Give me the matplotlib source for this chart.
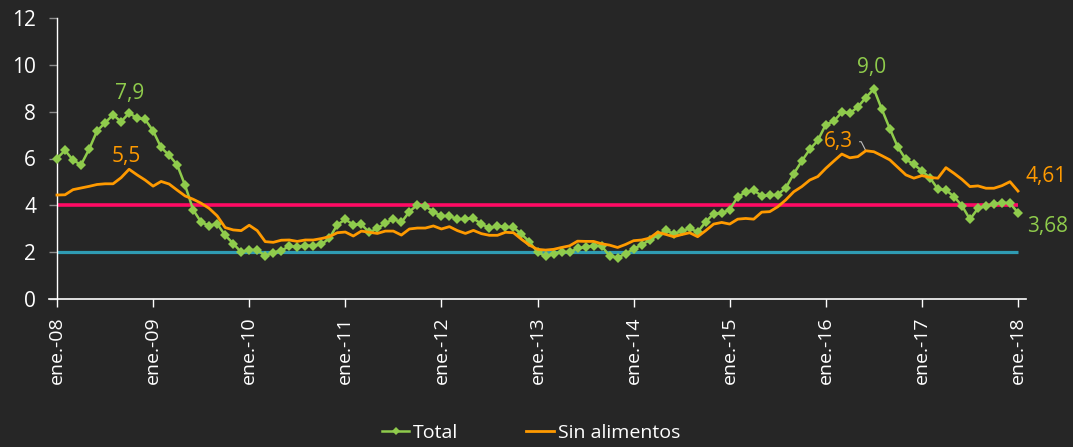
import numpy as np
import matplotlib
matplotlib.use("Agg")
import matplotlib.pyplot as plt

# --- DATA ---

year_labels = ["ene.-08", "ene.-09", "ene.-10", "ene.-11", "ene.-12", "ene.-13",
               "ene.-14", "ene.-15", "ene.-16", "ene.-17", "ene.-18"]

total = [
    6.00, 6.35, 5.93, 5.73, 6.39, 7.18, 7.52, 7.87, 7.57, 7.94, 7.73, 7.67,   # 2008
    7.18, 6.47, 6.14, 5.73, 4.85, 3.81, 3.28, 3.13, 3.21, 2.72, 2.37, 2.00,   # 2009
    2.10, 2.09, 1.84, 1.98, 2.07, 2.25, 2.24, 2.28, 2.28, 2.33, 2.59, 3.17,   # 2010
    3.40, 3.17, 3.19, 2.84, 3.02, 3.23, 3.42, 3.27, 3.73, 4.02, 3.96, 3.73,   # 2011
    3.54, 3.55, 3.40, 3.43, 3.44, 3.20, 3.03, 3.11, 3.08, 3.06, 2.77, 2.44,   # 2012
    2.00, 1.83, 1.91, 2.02, 2.00, 2.16, 2.22, 2.27, 2.27, 1.84, 1.76, 1.94,   # 2013
    2.13, 2.32, 2.51, 2.72, 2.93, 2.79, 2.89, 3.02, 2.86, 3.29, 3.65, 3.66,   # 2014
    3.82, 4.36, 4.56, 4.64, 4.41, 4.42, 4.46, 4.74, 5.35, 5.89, 6.39, 6.77,   # 2015
    7.45, 7.59, 7.98, 7.93, 8.20, 8.60, 8.97, 8.10, 7.27, 6.48, 5.96, 5.75,   # 2016
    5.47, 5.18, 4.69, 4.66, 4.37, 3.99, 3.40, 3.87, 3.97, 4.05, 4.12, 4.09,   # 2017
    3.68,                                                                     # 2018
]

sin_alimentos = [
    4.44, 4.45, 4.67, 4.74, 4.81, 4.89, 4.92, 4.92, 5.18, 5.54, 5.30, 5.08,
    4.82, 5.02, 4.91, 4.65, 4.40, 4.26, 4.09, 3.87, 3.55, 3.05, 2.95, 2.92,
    3.15, 2.92, 2.45, 2.42, 2.51, 2.52, 2.46, 2.52, 2.52, 2.58, 2.66, 2.83,
    2.86, 2.69, 2.90, 2.85, 2.80, 2.90, 2.90, 2.73, 2.99, 3.03, 3.03, 3.12,
    2.99, 3.09, 2.92, 2.80, 2.93, 2.79, 2.72, 2.72, 2.85, 2.83, 2.55, 2.30,
    2.12, 2.09, 2.12, 2.20, 2.27, 2.47, 2.46, 2.46, 2.36, 2.30, 2.20, 2.33,
    2.49, 2.52, 2.60, 2.85, 2.76, 2.66, 2.75, 2.83, 2.66, 2.92, 3.20, 3.27,
    3.20, 3.41, 3.44, 3.41, 3.71, 3.73, 3.94, 4.23, 4.58, 4.80, 5.08, 5.23,
    5.58, 5.89, 6.19, 6.03, 6.08, 6.33, 6.29, 6.12, 5.94, 5.62, 5.30, 5.16,
    5.27, 5.19, 5.16, 5.61, 5.37, 5.11, 4.80, 4.83, 4.73, 4.73, 4.84, 5.01,
    4.61,
]

meta_sup = 4   # upper target band
meta_inf = 2   # lower target band

# --- STYLE ---

plt.rcParams['font.family'] = ['Open Sans', 'DejaVu Sans']

BG = "#262626"
GREEN = "#8FCB4C"
ORANGE = "#FF9A00"
PINK = "#FF0A64"
TEAL = "#2F9BB3"

months = np.arange(len(total))

fig = plt.figure(figsize=(10.73, 4.47), dpi=100, facecolor=BG)
ax = fig.add_axes([49 / 1073, 148 / 447, 977 / 1073, 281 / 447])
ax.set_facecolor(BG)

ax.hlines(meta_sup, months[0], months[-1], color=PINK, lw=2.6, zorder=2)
ax.hlines(meta_inf, months[0], months[-1], color=TEAL, lw=2.3, zorder=2)

ax.plot(months, total, color=GREEN, lw=1.8, marker="D", markersize=4.6,
        markeredgewidth=0, label="Total", zorder=3)
ax.plot(months, sin_alimentos, color=ORANGE, lw=2.0, label="Sin alimentos", zorder=4)

ax.set_xlim(-1, 121)
ax.set_ylim(0, 12)
ax.set_yticks(range(0, 13, 2))
ax.set_xticks(months[::12])
ax.set_xticklabels(year_labels, rotation=90)

for s in ["top", "right"]:
    ax.spines[s].set_visible(False)
ax.spines["left"].set_position(("data", 0))
ax.spines["left"].set_color("white")
ax.spines["bottom"].set_color("white")
ax.spines["left"].set_linewidth(1.0)
ax.spines["bottom"].set_linewidth(1.2)

ax.tick_params(axis="y", direction="out", length=6, width=1, color="#8C8C8C",
               labelcolor="white", labelsize=15, pad=9)
ax.tick_params(axis="x", direction="out", length=5.5, width=1, color="white",
               labelcolor="white", labelsize=14, pad=7)

# --- DATA LABELS ---

def label(i, series, text, color, dx, dy, **kw):
    ax.annotate(text, xy=(months[i], series[i]), xytext=(dx, dy),
                textcoords="offset points", ha="center", va="center",
                color=color, fontsize=15, annotation_clip=False, **kw)

label(9, total, "7,9", GREEN, 0.7, 14.4)
label(9, sin_alimentos, "5,5", ORANGE, -2.2, 9.0)
label(102, total, "9,0", GREEN, -1.4, 15.1)
label(101, sin_alimentos, "6,3", ORANGE, -20, 6.5,
      arrowprops=dict(arrowstyle="-", color="#BFBFBF", lw=0.8, shrinkA=3, shrinkB=0,
                      relpos=(1, 0.5),
                      connectionstyle="angle,angleA=0,angleB=-63,rad=0"))
label(120, sin_alimentos, "4,61", ORANGE, 20, 10.8)
label(120, total, "3,68", GREEN, 21.6, -10)

fig.legend(loc="center", bbox_to_anchor=(531 / 1073, 14 / 447), ncol=2,
           frameon=False, fontsize=14, labelcolor="white", handlelength=1.4,
           handletextpad=0.2, columnspacing=3.5, markerscale=0.8)

fig.savefig("out.png", dpi=100, facecolor=BG)
plt.close(fig)
